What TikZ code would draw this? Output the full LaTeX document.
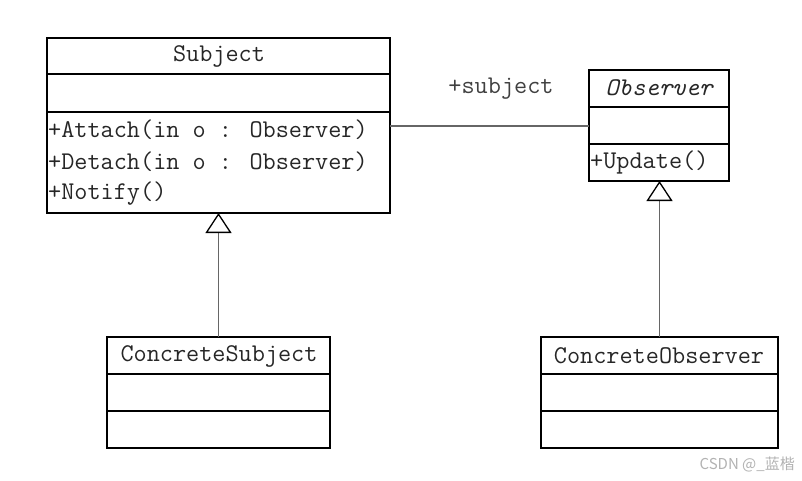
\documentclass[tikz,border=0pt]{standalone}
\usepackage{fontspec}
\newfontfamily\cjkwm{Noto Sans CJK SC}
\usetikzlibrary{arrows.meta}
\begin{document}
\begin{tikzpicture}[x=1pt,y=-1pt,
  box/.style={draw=black, line width=1.5pt, anchor=north west, inner sep=0pt, outer sep=0pt},
  sep/.style={draw=black, line width=1.5pt},
  txt/.style={font=\ttfamily\fontsize{25.5}{27}\selectfont, text=black!85, inner sep=0pt},
  conn/.style={draw=black!60, line width=1.3pt},
  gen/.style={conn, -{Triangle[open, width=26pt, length=20pt, color=black, line width=1.3pt]}}
]
\useasboundingbox (0,0) rectangle (802,480);
% Subject
\node[box, minimum width=343pt, minimum height=175pt] (subj) at (47,38) {};
\draw[sep] (47,74) -- (390,74);
\draw[sep] (47,112) -- (390,112);
\node[txt] (subjname) at (219,56) {Subject};
\node[txt, anchor=west] (op1) at (48,130) {+Attach(in o : Observer)};
\node[txt, anchor=west] (op2) at (48,162) {+Detach(in o : Observer)};
\node[txt, anchor=west] (op3) at (48,194) {+Notify()};
% Observer
\node[box, minimum width=140pt, minimum height=111pt] (obs) at (589,70) {};
\draw[sep] (589,107) -- (729,107);
\draw[sep] (589,144) -- (729,144);
\node[txt, font=\ttfamily\itshape\fontsize{25.5}{27}\selectfont] (obsname) at (659,88) {Observer};
\node[txt, anchor=west] (upd) at (590,162) {+Update()};
% ConcreteSubject
\node[box, minimum width=223pt, minimum height=111pt] (cs) at (107,337) {};
\draw[sep] (107,374) -- (330,374);
\draw[sep] (107,411) -- (330,411);
\node[txt] (csname) at (219,356) {ConcreteSubject};
% ConcreteObserver
\node[box, minimum width=237pt, minimum height=111pt] (co) at (541,337) {};
\draw[sep] (541,374) -- (778,374);
\draw[sep] (541,411) -- (778,411);
\node[txt] (coname) at (659,356) {ConcreteObserver};
% association
\coordinate (aL) at (390,126);
\coordinate (aR) at (589,126);
\draw[conn] (aL) -- (aR);
\node[txt, text=black!75] (role) at (501,89) {+subject};
% generalizations
\draw[gen] (cs.north) -- (cs.north |- subj.south);
\draw[gen] (co.north) -- (co.north |- obs.south);
% watermark
\node[font=\cjkwm\fontsize{15}{17}\selectfont, text=black!30, anchor=east, inner sep=0pt] (wm) at (795,464) {CSDN @\_蓝楷};
\end{tikzpicture}
\end{document}
